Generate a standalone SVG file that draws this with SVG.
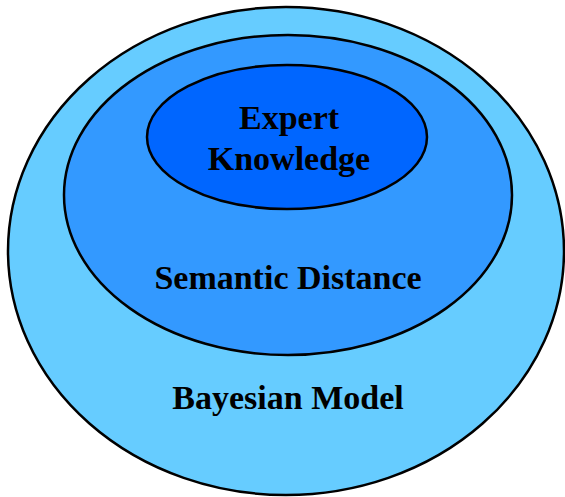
<svg xmlns="http://www.w3.org/2000/svg" width="565" height="497" viewBox="0 0 565 497">
<style>
.e{stroke:#000;stroke-width:2.5}
.t{font-family:"Liberation Serif","Times New Roman",serif;font-weight:bold;font-size:34px;fill:#000;text-anchor:middle}
</style>
<rect width="565" height="497" fill="#fff"/>
<g id="bayesian-model">
<ellipse class="e" cx="286" cy="251" rx="278" ry="244" fill="#66CCFF"/>
<text class="t" x="288" y="409">Bayesian Model</text>
</g>
<g id="semantic-distance">
<ellipse class="e" cx="288" cy="195" rx="224" ry="160" fill="#3399FF"/>
<text class="t" x="288" y="289">Semantic Distance</text>
</g>
<g id="expert-knowledge">
<ellipse class="e" cx="287" cy="137" rx="140" ry="72" fill="#0066FF"/>
<text class="t" x="289" y="129">Expert</text>
<text class="t" x="289" y="170">Knowledge</text>
</g>
<g id="connectors"/>
</svg>
